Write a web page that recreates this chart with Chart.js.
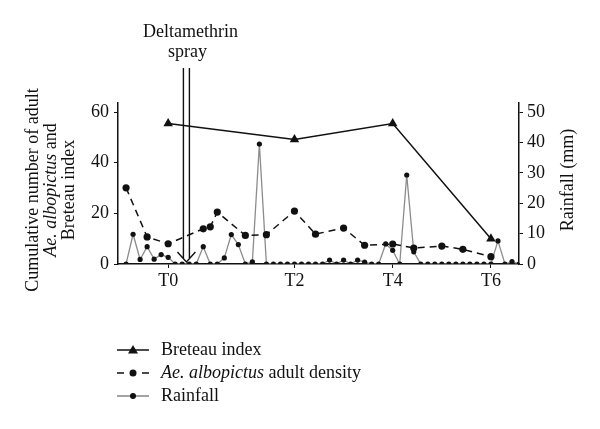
<!DOCTYPE html>
<html>
<head>
<meta charset="utf-8">
<script src="https://cdn.jsdelivr.net/npm/chart.js@4/dist/chart.umd.min.js"></script>
<style>
    html, body { margin: 0; padding: 0; background: #fff; }
    #wrap { width: 600px; height: 429px; position: relative; }
</style>
</head>
<body>
<div id="wrap"><canvas id="chart"></canvas></div>
<script>
// survey days (index from start of observation)
const rainDays = [...Array(57).keys()];
const rainfall = [
    0, 9.8, 1.5, 5.7, 1.6, 3.1, 2.2, 0, 0, 0,
    0, 5.7, 0, 0, 2.0, 9.7, 6.4, 0, 0.7, 39.5,
    0, 0, 0, 0, 0, 0, 0, 0, 0, 1.3,
    0, 1.3, 0, 1.3, 0.6, 0, 0, 6.6, 4.5, 0,
    29.3, 4.0, 0, 0, 0, 0, 0, 0, 0, 0,
    0, 0, 0, 7.6, 0, 0.8, 0
];

const densityDays = [0, 3, 6, 11, 12, 13, 17, 20, 24, 27, 31, 34, 38, 41, 45, 48, 52];
const density = [30.1, 10.7, 8.0, 13.9, 14.7, 20.5, 11.3, 11.6, 20.9, 11.8, 14.2, 7.4, 7.9, 6.3, 7.1, 5.8, 2.9];

const breteauDays = [6, 24, 38, 52];
const breteau = [55.5, 49.2, 55.5, 10.0];

const periodDays = [6, 24, 38, 52];
const periodLabels = ['T0', 'T2', 'T4', 'T6'];

const leftTicks = [0, 20, 40, 60];
const rightTicks = [0, 10, 20, 30, 40, 50];

const sprayDay = 8.6;

const serif = "'Liberation Serif', 'Times New Roman', serif";
const FS = 18;

function pts(xs, ys) {
    return xs.map((x, i) => ({ x: x, y: ys[i] }));
}

// mixed italic / regular text run
function runWidth(ctx, parts) {
    let w = 0;
    parts.forEach(p => {
        ctx.font = (p.it ? 'italic ' : '') + FS + 'px ' + serif;
        w += ctx.measureText(p.t).width;
    });
    return w;
}
function paintRun(ctx, parts, x, y) {
    let cx = x;
    parts.forEach(p => {
        ctx.font = (p.it ? 'italic ' : '') + FS + 'px ' + serif;
        ctx.fillText(p.t, cx, y);
        cx += ctx.measureText(p.t).width;
    });
}

const extras = {
    id: 'extras',
    afterDatasetsDraw(chart) {
        const ctx = chart.ctx;
        const xs = chart.scales.x;
        const area = chart.chartArea;
        ctx.save();
        ctx.fillStyle = '#111';
        ctx.strokeStyle = '#111';

        // spray arrow
        const ax = xs.getPixelForValue(sprayDay);
        ctx.lineWidth = 1.4;
        ctx.beginPath();
        ctx.moveTo(ax - 3, 68); ctx.lineTo(ax - 3, area.bottom - 5);
        ctx.moveTo(ax + 3, 68); ctx.lineTo(ax + 3, area.bottom - 5);
        ctx.moveTo(ax - 9, area.bottom - 12); ctx.lineTo(ax, area.bottom - 2); ctx.lineTo(ax + 9, area.bottom - 12);
        ctx.stroke();
        ctx.font = FS + 'px ' + serif;
        ctx.textAlign = 'center';
        ctx.textBaseline = 'middle';
        ctx.fillText('Deltamethrin', ax + 4, 32);
        ctx.fillText('spray', ax + 1, 52);

        // left axis title
        const ty = 190;
        const titleLines = [
            [{ t: 'Cumulative number of adult' }],
            [{ t: 'Ae. albopictus', it: true }, { t: ' and' }],
            [{ t: 'Breteau index' }]
        ];
        const tx = [33, 51, 69];
        ctx.textAlign = 'left';
        titleLines.forEach((parts, i) => {
            ctx.save();
            ctx.translate(tx[i], ty);
            ctx.rotate(-Math.PI / 2);
            const w = runWidth(ctx, parts);
            paintRun(ctx, parts, -w / 2, 0);
            ctx.restore();
        });

        // right axis title
        ctx.save();
        ctx.translate(568, 180);
        ctx.rotate(-Math.PI / 2);
        ctx.font = FS + 'px ' + serif;
        ctx.textAlign = 'center';
        ctx.fillText('Rainfall (mm)', 0, 0);
        ctx.restore();

        // legend
        const lx0 = 117, lx1 = 149, lm = 133, txtX = 161;
        const rows = [350, 373, 396];
        ctx.textAlign = 'left';
        // Breteau
        ctx.lineWidth = 1.5;
        ctx.setLineDash([]);
        ctx.beginPath(); ctx.moveTo(lx0, rows[0]); ctx.lineTo(lx1, rows[0]); ctx.stroke();
        ctx.beginPath();
        ctx.moveTo(lm, rows[0] - 5); ctx.lineTo(lm + 5, rows[0] + 3.5); ctx.lineTo(lm - 5, rows[0] + 3.5);
        ctx.closePath(); ctx.fill();
        paintRun(ctx, [{ t: 'Breteau index' }], txtX, rows[0]);
        // density
        ctx.beginPath();
        ctx.moveTo(lx0, rows[1]); ctx.lineTo(lx0 + 7, rows[1]);
        ctx.moveTo(lx1 - 7, rows[1]); ctx.lineTo(lx1, rows[1]);
        ctx.stroke();
        ctx.beginPath(); ctx.arc(lm, rows[1], 3.5, 0, Math.PI * 2); ctx.fill();
        paintRun(ctx, [{ t: 'Ae. albopictus', it: true }, { t: ' adult density' }], txtX, rows[1]);
        // rainfall
        ctx.strokeStyle = '#666';
        ctx.lineWidth = 1.2;
        ctx.beginPath(); ctx.moveTo(lx0, rows[2]); ctx.lineTo(lx1, rows[2]); ctx.stroke();
        ctx.beginPath(); ctx.arc(lm, rows[2], 3, 0, Math.PI * 2); ctx.fill();
        paintRun(ctx, [{ t: 'Rainfall' }], txtX, rows[2]);

        ctx.restore();
    }
};

const axisFont = { family: serif, size: FS };

new Chart(document.getElementById('chart'), {
    type: 'line',
    data: {
        datasets: [{
            label: 'Breteau index',
            data: pts(breteauDays, breteau),
            yAxisID: 'y',
            borderColor: '#111',
            backgroundColor: '#111',
            borderWidth: 1.5,
            pointStyle: 'triangle',
            pointRadius: 5.5,
            pointBackgroundColor: '#111',
            pointBorderColor: '#111',
            pointBorderWidth: 0,
            order: 1
        }, {
            label: 'Ae. albopictus adult density',
            data: pts(densityDays, density),
            yAxisID: 'y',
            borderColor: '#111',
            backgroundColor: '#111',
            borderWidth: 1.5,
            borderDash: [7, 5],
            pointRadius: 3.6,
            pointBackgroundColor: '#111',
            pointBorderColor: '#111',
            pointBorderWidth: 0,
            order: 2
        }, {
            label: 'Rainfall',
            data: pts(rainDays, rainfall),
            yAxisID: 'y2',
            borderColor: '#8c8c8c',
            backgroundColor: '#111',
            borderWidth: 1.3,
            pointRadius: 2.6,
            pointBackgroundColor: '#111',
            pointBorderColor: '#111',
            pointBorderWidth: 0,
            order: 3
        }]
    },
    options: {
        responsive: true,
        maintainAspectRatio: false,
        animation: false,
        layout: { padding: { top: 103, bottom: 135, left: 0, right: 0 } },
        plugins: {
            legend: { display: false },
            tooltip: { enabled: false }
        },
        scales: {
            x: {
                type: 'linear',
                min: -1.15,
                max: 56,
                afterBuildTicks: function(scale) {
                    scale.ticks = periodDays.map(v => ({ value: v }));
                },
                afterFit: function(scale) { scale.height = 30; },
                ticks: {
                    font: axisFont,
                    color: '#111',
                    padding: 2,
                    maxRotation: 0,
                    callback: function(value) {
                        return periodLabels[periodDays.indexOf(value)];
                    }
                },
                grid: { drawOnChartArea: false, tickLength: 4, color: '#111' },
                border: { color: '#111', width: 1.5 }
            },
            y: {
                position: 'left',
                min: 0,
                max: 63.6,
                afterBuildTicks: function(scale) {
                    scale.ticks = leftTicks.map(v => ({ value: v }));
                },
                afterFit: function(scale) { scale.width = 118; },
                ticks: { font: axisFont, color: '#111', padding: 5 },
                grid: { drawOnChartArea: false, tickLength: 4, color: '#111' },
                border: { color: '#111', width: 1.5 }
            },
            y2: {
                position: 'right',
                min: 0,
                max: 53,
                afterBuildTicks: function(scale) {
                    scale.ticks = rightTicks.map(v => ({ value: v }));
                },
                afterFit: function(scale) { scale.width = 81; },
                ticks: { font: axisFont, color: '#111', padding: 4 },
                grid: { drawOnChartArea: false, tickLength: 4, color: '#111' },
                border: { color: '#111', width: 1.5 }
            }
        }
    },
    plugins: [extras]
});
</script>
</body>
</html>
